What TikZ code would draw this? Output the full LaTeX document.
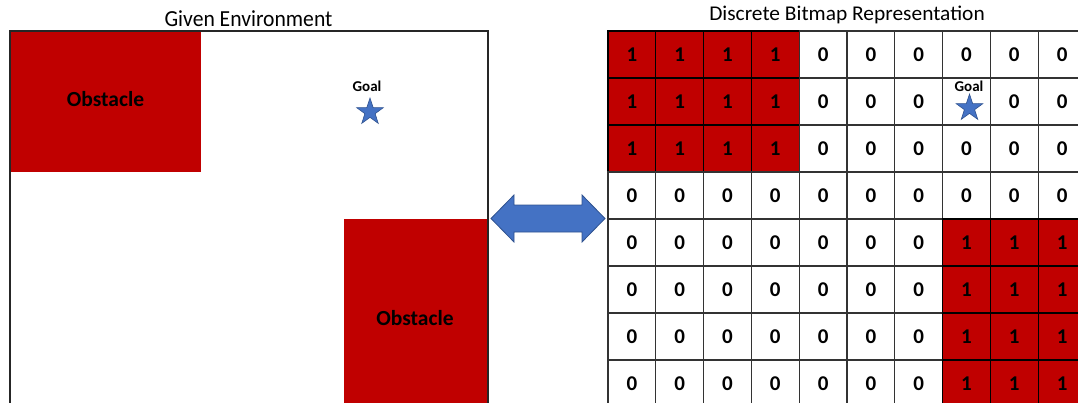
\documentclass[tikz,border=0pt]{standalone}
\usepackage{fontspec}
\setmainfont{Carlito}
\usetikzlibrary{shapes.geometric,calc}
\definecolor{obst}{HTML}{C00000}
\definecolor{goalblue}{HTML}{4472C4}
\definecolor{goaledge}{HTML}{2F528F}
\begin{document}
\begin{tikzpicture}[x=1pt,y=-1pt,
  title/.style={anchor=base,inner sep=0pt},
  obstlabel/.style={inner sep=0pt,font=\fontsize{21.5}{25}\selectfont\bfseries},
  goallabel/.style={inner sep=0pt,font=\fontsize{15}{18}\selectfont\bfseries},
  goalstar/.style={star,star points=5,star point ratio=2.6,minimum size=28pt,inner sep=0pt,
    fill=goalblue,draw=goaledge,line width=0.6pt},
  cellbox/.style={rectangle,minimum width=47.8pt,minimum height=47pt,inner sep=0pt,
    draw=black!80,line width=1.2pt,font=\fontsize{21}{25}\selectfont\bfseries},
  freecell/.style={cellbox,fill=white},
  blockcell/.style={cellbox,fill=obst,draw=black},
  twoway/.style={fill=goalblue,draw=goaledge,line width=0.8pt,line join=miter}]
\useasboundingbox (0,0) rectangle (1078,402);
\clip (0,0) rectangle (1078,402);

% continuous environment
\node[title,font=\fontsize{23}{27}\selectfont,xscale=0.94] (envtitle) at (248.5,26.5) {Given Environment};
\fill[obst] (10,31) rectangle (201,172);
\fill[obst] (344,219) rectangle (488,420);
\draw[black!85,line width=1.5pt] (10,420) -- (10,31) -- (488,31) -- (488,420);
\node[obstlabel] (obsA) at (105.5,99) {Obstacle};
\node[obstlabel] (obsB) at (415,318) {Obstacle};
\node[goallabel] (goalA) at (367,86) {Goal};
\node[goalstar] (starA) at (370,112) {};

% two-way conversion arrow between the two views
\coordinate (linkL) at (491,218.5);
\coordinate (linkR) at (605,218.5);
\draw[twoway] (linkL) -- ++(23,-23.5) -- ++(0,10) -- ($(linkR)+(-23,-13.5)$) -- ++(0,-10)
  -- (linkR) -- ++(-23,23.5) -- ++(0,-10) -- ($(linkL)+(23,13.5)$) -- ++(0,10) -- cycle;

% bitmap grid
\node[title,font=\fontsize{21}{25}\selectfont,xscale=1.02] (gridtitle) at (847,20.5) {Discrete Bitmap Representation};
\foreach \r in {0,...,7}{
  \foreach \c in {0,...,9}{
    \pgfmathtruncatemacro{\blocked}{(\r<3 && \c<4) || (\r>3 && \c>6) ? 1 : 0}
    \pgfmathsetmacro{\cx}{608+(\c+0.5)*47.8}
    \pgfmathsetmacro{\cy}{31+(\r+0.5)*47}
    \ifnum\blocked=1
      \node[blockcell] (cell-\r-\c) at (\cx,\cy) {1};
    \else
      \ifnum\r=1 \ifnum\c=7
        \node[freecell] (cell-\r-\c) at (\cx,\cy) {};
      \else
        \node[freecell] (cell-\r-\c) at (\cx,\cy) {0};
      \fi
      \else
        \node[freecell] (cell-\r-\c) at (\cx,\cy) {0};
      \fi
    \fi
  }
}
\node[goallabel] (goalB) at (969,86) {Goal};
\node[goalstar] (starB) at (969.5,108) {};
\end{tikzpicture}
\end{document}
